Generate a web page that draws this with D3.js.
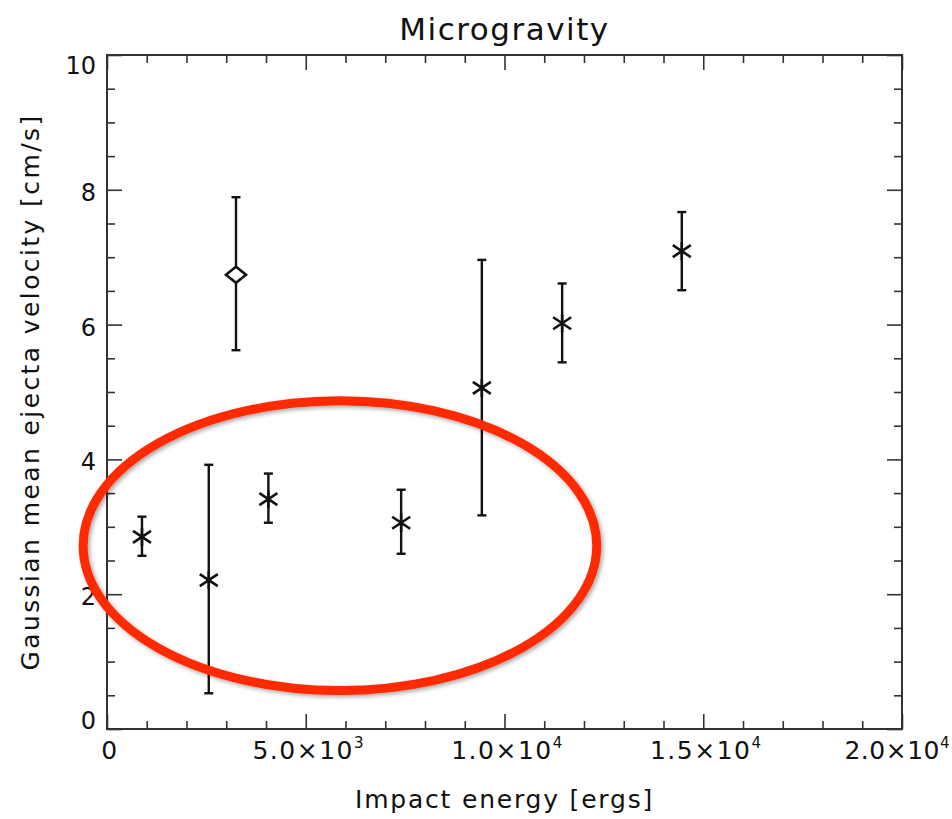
<!DOCTYPE html>
<html>
<head>
<meta charset="utf-8">
<script src="https://cdn.jsdelivr.net/npm/d3@7"></script>
<style>
  body { margin: 0; background: #fff; }
  text { font-family: "DejaVu Sans", sans-serif; fill: #111; }
</style>
</head>
<body>
<svg id="chart"></svg>
<script>
// impact energy [ergs]
var energy   = [880, 2560, 3245, 4060, 7400, 9430, 11450, 14460];
// gaussian mean ejecta velocity [cm/s]
var velocity = [2.85, 2.21, 6.74, 3.41, 3.06, 5.06, 6.02, 7.09];
var errLow   = [2.57, 0.53, 5.62, 3.06, 2.60, 3.17, 5.44, 6.51];
var errHigh  = [3.15, 3.92, 7.89, 3.79, 3.55, 6.96, 6.61, 7.67];
var symbol   = ["star", "star", "diamond", "star", "star", "star", "star", "star"];

var xTicks = [0, 5000, 10000, 15000, 20000];
var xTickLabels = [["0", ""], ["5.0×10", "3"], ["1.0×10", "4"], ["1.5×10", "4"], ["2.0×10", "4"]];
var yTicks = [0, 2, 4, 6, 8, 10];
var yTickLabels = ["0", "2", "4", "6", "8", "10"];

// red annotation ellipse (data units: centre x, centre y, radius x, radius y)
var ellipseAnno = [5860, 2.72, 6460, 2.15];

var width = 952,
    height = 819;
var margin = {top: 55, right: 50, bottom: 90, left: 107};

var svg = d3.select("#chart")
    .attr("width", width)
    .attr("height", height);

var defs = svg.append("defs");
var filt = defs.append("filter").attr("id", "shadow")
    .attr("x", "-10%").attr("y", "-10%").attr("width", "120%").attr("height", "120%");
filt.append("feDropShadow")
    .attr("dx", 2).attr("dy", 2).attr("stdDeviation", 2)
    .attr("flood-color", "#000").attr("flood-opacity", 0.35);

var x = d3.scaleLinear().domain([0, 20000]).range([margin.left, width - margin.right]);
var y = d3.scaleLinear().domain([0, 10]).range([height - margin.bottom, margin.top]);

var g = svg.append("g");

// frame
g.append("rect")
    .attr("x", x(0)).attr("y", y(10))
    .attr("width", x(20000) - x(0)).attr("height", y(0) - y(10))
    .attr("fill", "none").attr("stroke", "#333").attr("stroke-width", 2);

function tickAxis(axisFn, scale, vals, size, tr) {
  var a = g.append("g")
      .attr("transform", tr)
      .call(axisFn(scale).tickValues(vals).tickSizeInner(size).tickSizeOuter(0).tickFormat(""));
  a.select(".domain").remove();
  a.selectAll("line").attr("stroke", "#333").attr("stroke-width", 1.6);
}

var xMinor = d3.range(0, 20001, 1000).filter(function(d) { return d % 5000 != 0; });
var yMinor = d3.range(0, 10.01, 0.5).filter(function(d) { return d % 2 != 0; });

tickAxis(d3.axisBottom, x, xTicks, -15, "translate(0," + y(0) + ")");
tickAxis(d3.axisBottom, x, xMinor, -8, "translate(0," + y(0) + ")");
tickAxis(d3.axisTop, x, xTicks, -15, "translate(0," + y(10) + ")");
tickAxis(d3.axisTop, x, xMinor, -8, "translate(0," + y(10) + ")");
tickAxis(d3.axisLeft, y, yTicks, -15, "translate(" + x(0) + ",0)");
tickAxis(d3.axisLeft, y, yMinor, -8, "translate(" + x(0) + ",0)");
tickAxis(d3.axisRight, y, yTicks, -15, "translate(" + x(20000) + ",0)");
tickAxis(d3.axisRight, y, yMinor, -8, "translate(" + x(20000) + ",0)");

// x tick labels (last one kept inside the page edge)
xTicks.forEach(function(v, i) {
  var t = g.append("text")
      .attr("x", i == xTicks.length - 1 ? width - 2 : x(v) + 3).attr("y", y(0) + 30)
      .attr("text-anchor", i == xTicks.length - 1 ? "end" : "middle")
      .style("font-size", "25px")
      .style("letter-spacing", i == xTicks.length - 1 ? "0.5px" : "1.5px");
  t.append("tspan").text(xTickLabels[i][0]);
  if (xTickLabels[i][1]) {
    t.append("tspan").attr("dy", -11).style("font-size", "15px").text(xTickLabels[i][1]);
  }
});

// y tick labels (first pushed up, last pushed down, as in the original)
yTicks.forEach(function(v, i) {
  var off = 11;
  if (i == 0) off = 0;
  if (i == yTicks.length - 1) off = 19;
  g.append("text")
      .attr("x", x(0) - 11).attr("y", y(v) + off)
      .attr("text-anchor", "end")
      .style("font-size", "24px")
      .text(yTickLabels[i]);
});

// titles
g.append("text")
    .attr("x", (x(0) + x(20000)) / 2).attr("y", 40)
    .attr("text-anchor", "middle")
    .style("font-size", "31px")
    .style("letter-spacing", "1.5px")
    .text("Microgravity");

g.append("text")
    .attr("x", (x(0) + x(20000)) / 2).attr("y", 808)
    .attr("text-anchor", "middle")
    .style("font-size", "25px")
    .style("letter-spacing", "1.8px")
    .text("Impact energy [ergs]");

g.append("text")
    .attr("transform", "translate(39," + ((y(0) + y(10)) / 2) + ") rotate(-90)")
    .attr("text-anchor", "middle")
    .style("font-size", "25px")
    .style("letter-spacing", "2.4px")
    .text("Gaussian mean ejecta velocity [cm/s]");

// error bars
var pts = energy.map(function(e, i) {
  return {x: e, y: velocity[i], lo: errLow[i], hi: errHigh[i], s: symbol[i]};
});

var bars = g.selectAll(".err").data(pts).enter().append("g").attr("class", "err")
    .attr("stroke", "#111").attr("stroke-width", 2.4).attr("fill", "none");
bars.append("line")
    .attr("x1", function(d) { return x(d.x); }).attr("x2", function(d) { return x(d.x); })
    .attr("y1", function(d) { return y(d.lo); }).attr("y2", function(d) { return y(d.hi); });
bars.append("line")
    .attr("x1", function(d) { return x(d.x) - 4.5; }).attr("x2", function(d) { return x(d.x) + 4.5; })
    .attr("y1", function(d) { return y(d.lo); }).attr("y2", function(d) { return y(d.lo); });
bars.append("line")
    .attr("x1", function(d) { return x(d.x) - 4.5; }).attr("x2", function(d) { return x(d.x) + 4.5; })
    .attr("y1", function(d) { return y(d.hi); }).attr("y2", function(d) { return y(d.hi); });

// markers
var marks = g.selectAll(".mark").data(pts).enter().append("path").attr("class", "mark")
    .attr("transform", function(d) { return "translate(" + x(d.x) + "," + y(d.y) + ")"; })
    .attr("d", function(d) {
      if (d.s == "diamond") return "M-10,0L0,-8L10,0L0,8Z";
      return "M0,-9L0,9M-9,-6L9,6M-9,6L9,-6";
    })
    .attr("fill", function(d) { return d.s == "diamond" ? "#fff" : "none"; })
    .attr("stroke", "#111").attr("stroke-width", 2.6);

// red annotation ellipse
g.append("ellipse")
    .attr("cx", x(ellipseAnno[0])).attr("cy", y(ellipseAnno[1]))
    .attr("rx", x(ellipseAnno[2]) - x(0)).attr("ry", y(0) - y(ellipseAnno[3]))
    .attr("fill", "none").attr("stroke", "#ff2a00").attr("stroke-width", 9)
    .attr("filter", "url(#shadow)");
</script>
</body>
</html>
